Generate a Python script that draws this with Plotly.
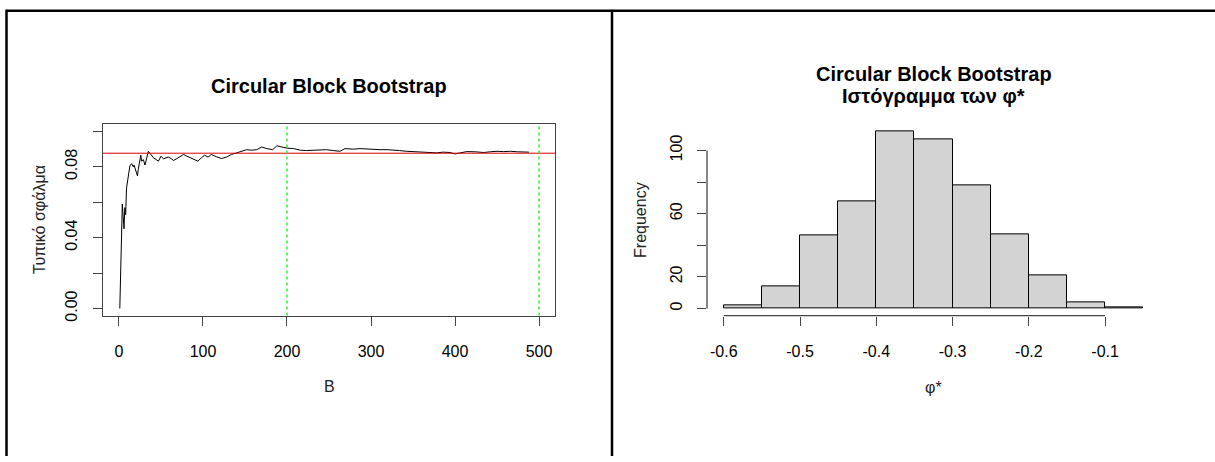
import plotly.graph_objects as go

W, H = 1215, 462

# ---------------- data ----------------
B_vals = [1, 2, 3, 4, 5, 6, 7, 8, 9, 11, 13, 15, 17, 18, 20, 22, 23, 26, 27, 29, 31, 33, 35, 38,
          41, 44, 47, 50, 53, 56, 59, 62, 65, 69, 73, 77, 81, 85, 89, 94, 98, 102, 106, 110,
          116, 122, 128, 134, 140, 146, 152, 158, 164, 170, 176, 183, 188, 194, 200, 208, 216,
          223, 231, 239, 247, 255, 263, 269, 279, 287, 295, 303, 311, 319, 327, 334, 342, 350,
          358, 368, 378, 386, 394, 400, 406, 414, 424, 434, 442, 450, 458, 466, 474, 481, 488]
se_vals = [0.000, 0.022, 0.051, 0.059, 0.052, 0.045, 0.057, 0.053, 0.068, 0.074, 0.0805, 0.0818,
           0.0800, 0.0810, 0.0777, 0.0749, 0.0786, 0.0866, 0.0832, 0.0841, 0.0810, 0.0851,
           0.0888, 0.0870, 0.0851, 0.0842, 0.0832, 0.0860, 0.0845, 0.0851, 0.0855, 0.0847,
           0.0836, 0.0847, 0.0860, 0.0870, 0.0860, 0.0851, 0.0842, 0.0832, 0.0851, 0.0866,
           0.0855, 0.0870, 0.0857, 0.0847, 0.0855, 0.0870, 0.0879, 0.0888, 0.0897, 0.0894,
           0.0897, 0.0912, 0.0903, 0.0897, 0.0919, 0.0912, 0.0906, 0.0903, 0.0894, 0.0892,
           0.0894, 0.0892, 0.0897, 0.0892, 0.0888, 0.0903, 0.0900, 0.0903, 0.0900, 0.0901,
           0.0897, 0.0897, 0.0896, 0.0892, 0.0888, 0.0886, 0.0885, 0.0881, 0.0879, 0.0883,
           0.0881, 0.0873, 0.0879, 0.0886, 0.0885, 0.0881, 0.0885, 0.0888, 0.0886, 0.0888,
           0.0885, 0.0885, 0.0883]
se_ref = 0.0877
vlines_B = [200, 500]
x1_ticks = [0, 100, 200, 300, 400, 500]
y1_ticks = [0.00, 0.02, 0.04, 0.06, 0.08, 0.10]
y1_ticktext = ["0.00", "", "0.04", "", "0.08", ""]

bin_edges = [-0.60, -0.55, -0.50, -0.45, -0.40, -0.35, -0.30, -0.25, -0.20, -0.15, -0.10, -0.05]
counts = [2, 14, 46, 68, 112, 107, 78, 47, 21, 4, 1]
x2_ticks = [-0.6, -0.5, -0.4, -0.3, -0.2, -0.1]
x2_ticktext = ["-0.6", "-0.5", "-0.4", "-0.3", "-0.2", "-0.1"]
y2_ticks = [0, 20, 40, 60, 80, 100]
y2_ticktext = ["0", "20", "", "60", "", "100"]

title_left = "Circular Block Bootstrap"
title_right_1 = "Circular Block Bootstrap"
title_right_2 = "Ιστόγραμμα των φ*"
ylab_left = "Τυπικό σφάλμα"
xlab_left = "B"
ylab_right = "Frequency"
xlab_right = "φ*"

# ---------------- helpers ----------------
def px(x):
    return x / W

def py(y):
    return 1 - y / H

FONT = "Liberation Sans, Arial, sans-serif"
AX = "#444444"
FS = 16
FS_MAIN = 20

# plot regions (pixels)
L = (103, 555)
R = (707, 1160)
TOP, BOT = 126, 319.7

fig = go.Figure()

fig.add_trace(go.Scatter(x=B_vals, y=se_vals, mode="lines",
                         line=dict(color="black", width=1), xaxis="x", yaxis="y",
                         showlegend=False, hoverinfo="skip"))

centers = [(bin_edges[i] + bin_edges[i + 1]) / 2 for i in range(len(counts))]
widths = [bin_edges[i + 1] - bin_edges[i] for i in range(len(counts))]
fig.add_trace(go.Bar(x=centers, y=counts, width=widths,
                     marker=dict(color="#D3D3D3", line=dict(color="black", width=1)),
                     xaxis="x2", yaxis="y2", showlegend=False, hoverinfo="skip"))

tickfont = dict(family=FONT, size=FS, color="black")

fig.update_layout(
    width=W, height=H, margin=dict(l=0, r=0, t=0, b=0),
    paper_bgcolor="white", plot_bgcolor="white",
    bargap=0,
    xaxis=dict(domain=[px(L[0]), px(L[1])], range=[-19, 519], tickvals=x1_ticks,
               ticks="outside", ticklen=9, tickcolor=AX, showgrid=False, zeroline=False,
               showline=True, mirror=True, linecolor=AX, linewidth=1.3,
               tickfont=tickfont, ticklabelstandoff=12, anchor="y"),
    yaxis=dict(domain=[py(BOT), py(TOP)], range=[-0.004, 0.104], tickvals=y1_ticks,
               ticktext=y1_ticktext, tickangle=-90,
               ticks="outside", ticklen=9, tickcolor=AX, showgrid=False, zeroline=False,
               showline=True, mirror=True, linecolor=AX, linewidth=1.3,
               tickfont=tickfont, ticklabelstandoff=9, anchor="x"),
    xaxis2=dict(domain=[px(R[0]), px(R[1])], range=[-0.622, -0.028], tickvals=x2_ticks,
                ticktext=x2_ticktext,
                ticks="outside", ticklen=9, tickcolor=AX, showgrid=False, zeroline=False,
                showline=False, tickfont=tickfont, ticklabelstandoff=12, anchor="y2"),
    yaxis2=dict(domain=[py(BOT), py(TOP)], range=[-4.48, 116.48], tickvals=y2_ticks,
                ticktext=y2_ticktext, tickangle=-90,
                ticks="outside", ticklen=9, tickcolor=AX, showgrid=False, zeroline=False,
                showline=False, tickfont=tickfont, ticklabelstandoff=9, anchor="x2"),
)

shapes = []
shapes.append(dict(type="line", xref="x domain", yref="y", x0=0, x1=1, y0=se_ref, y1=se_ref,
                   line=dict(color="#E00000", width=1)))
for b in vlines_B:
    shapes.append(dict(type="line", xref="x", yref="y domain", x0=b, x1=b, y0=0, y1=1,
                       line=dict(color="#33EE33", width=1.5, dash="dot")))
shapes.append(dict(type="line", xref="x2", yref="y2 domain", x0=x2_ticks[0], x1=x2_ticks[-1],
                   y0=0, y1=0, line=dict(color=AX, width=1.3)))
shapes.append(dict(type="line", xref="x2 domain", yref="y2", x0=0, x1=0, y0=y2_ticks[0],
                   y1=y2_ticks[-1], line=dict(color=AX, width=1.3)))
# table frame
shapes.append(dict(type="line", xref="paper", yref="paper", x0=px(6), x1=1, y0=py(11), y1=py(11),
                   line=dict(color="black", width=2.5)))
shapes.append(dict(type="line", xref="paper", yref="paper", x0=px(6.5), x1=px(6.5), y0=py(10), y1=0,
                   line=dict(color="black", width=2.5)))
shapes.append(dict(type="line", xref="paper", yref="paper", x0=px(612), x1=px(612), y0=py(10), y1=0,
                   line=dict(color="black", width=2.5)))
fig.update_layout(shapes=shapes)


def note(text, x, y, size, angle=0, color="black"):
    return dict(text=text, x=px(x), y=py(y), xref="paper", yref="paper", showarrow=False,
                xanchor="center", yanchor="middle", textangle=angle,
                font=dict(family=FONT, size=size, color=color))


ann = [
    note(f"<b>{title_left}</b>", (L[0] + L[1]) / 2, 87, FS_MAIN),
    note(f"<b>{title_right_1}</b>", (R[0] + R[1]) / 2, 75, FS_MAIN),
    note(f"<b>{title_right_2}</b>", (R[0] + R[1]) / 2, 97, FS_MAIN),
    note(xlab_left, (L[0] + L[1]) / 2, 392, FS, color="#222"),
    note(xlab_right, (R[0] + R[1]) / 2, 393, FS, color="#222"),
    note(ylab_left, 40, (TOP + BOT) / 2, FS, angle=-90, color="#222"),
    note(ylab_right, 641, (TOP + BOT) / 2, FS, angle=-90, color="#222"),
]
fig.update_layout(annotations=ann)

fig.write_html("out.html")
